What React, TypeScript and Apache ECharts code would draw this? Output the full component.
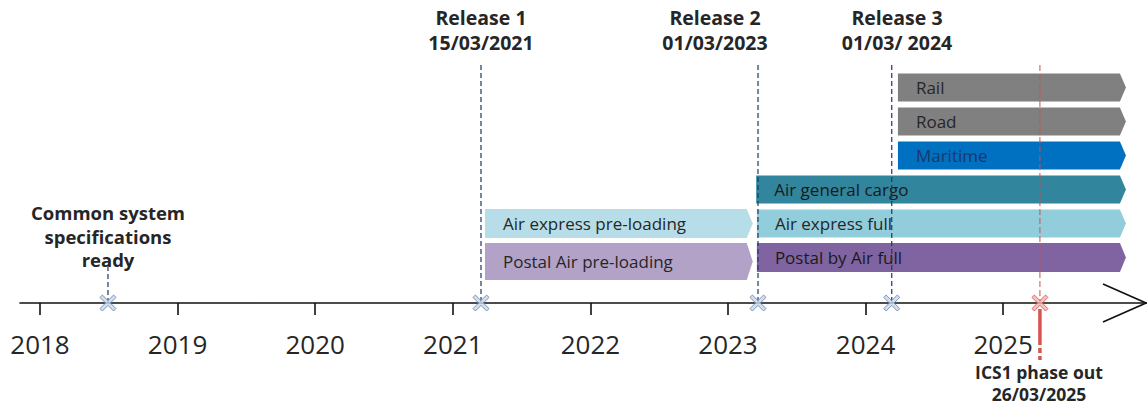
import React, { useEffect, useRef } from "react";
import * as echarts from "echarts";

// ---- data ----
const years = [2018, 2019, 2020, 2021, 2022, 2023, 2024, 2025];

const barNames = [
  "Rail",
  "Road",
  "Maritime",
  "Air general cargo",
  "Air express full",
  "Postal by Air full",
  "Air express pre-loading",
  "Postal Air pre-loading",
];
const barStart = [2024.235, 2024.235, 2024.235, 2023.205, 2023.21, 2023.21, 2021.234, 2021.234];
const barEnd = [2025.892, 2025.892, 2025.892, 2025.892, 2025.892, 2025.892, 2023.18, 2023.18];
const barLane = [5, 4, 3, 2, 1, 0, 1, -0.12];

const milestoneNames = ["Common system", "Release 1", "Release 2", "Release 3", "ICS1"];
const milestoneDates = [2018.494, 2021.205, 2023.218, 2024.19, 2025.267];
const milestoneLabels = [
  "Common system\nspecifications\nready",
  "Release 1\n15/03/2021",
  "Release 2\n01/03/2023",
  "Release 3\n01/03/ 2024",
  "ICS1 phase out\n26/03/2025",
];

// ---- styles ----
const X_MIN = 2017.8547;
const X_MAX = 2026.0451;
const Y_MIN = -1.338;
const Y_MAX = 7.574;
const FONT = "'Open Sans', 'Liberation Sans', sans-serif";

const barStyle: Record<string, { color: string; text: string; h: number }> = {
  Rail: { color: "#808080", text: "#262626", h: 28 },
  Road: { color: "#808080", text: "#262626", h: 28 },
  Maritime: { color: "#0070C0", text: "#1B3A6B", h: 28 },
  "Air general cargo": { color: "#31859C", text: "#1a1a1a", h: 28 },
  "Air express full": { color: "#92CDDC", text: "#262626", h: 28 },
  "Postal by Air full": { color: "#8064A2", text: "#1a1a1a", h: 29 },
  "Air express pre-loading": { color: "#B7DEE8", text: "#262626", h: 29 },
  "Postal Air pre-loading": { color: "#B3A2C7", text: "#262626", h: 37 },
};

const milestoneStyle: Record<
  string,
  { topV: number; color: string; width: number; dash: number[]; marker: string; markerBorder: string; lx: number; ly: number; lh: number; fs: number }
> = {
  "Common system": { topV: -0.25, color: "#1F3864", width: 1.2, dash: [5, 3], marker: "#C9D8EC", markerBorder: "#5F7FA8", lx: 108, ly: 236, lh: 23.5, fs: 18.5 },
  "Release 1": { topV: 5.66, color: "#1F3864", width: 1.2, dash: [5, 3], marker: "#C9D8EC", markerBorder: "#5F7FA8", lx: 481, ly: 30, lh: 25, fs: 19.5 },
  "Release 2": { topV: 5.66, color: "#1F3864", width: 1.2, dash: [5, 3], marker: "#C9D8EC", markerBorder: "#5F7FA8", lx: 715, ly: 30, lh: 25, fs: 19.5 },
  "Release 3": { topV: 5.66, color: "#1F3864", width: 1.2, dash: [5, 3], marker: "#C9D8EC", markerBorder: "#5F7FA8", lx: 897, ly: 30, lh: 25, fs: 19.5 },
  ICS1: { topV: 5.66, color: "#C9504D", width: 1, dash: [6, 3], marker: "#F2B3AE", markerBorder: "#D0504D", lx: 1039, ly: 383, lh: 22, fs: 17.5 },
};

const X_SYMBOL =
  "path://M0,3 L3,0 L10,7 L17,0 L20,3 L13,10 L20,17 L17,20 L10,13 L3,20 L0,17 L7,10 Z";

export default function App() {
  const ref = useRef<HTMLDivElement>(null);

  useEffect(() => {
    if (!ref.current) return;
    const chart = echarts.init(ref.current, undefined, { renderer: "svg" });

    const option: any = {
      animation: false,
      backgroundColor: "#ffffff",
      grid: { left: 20, right: 0, top: 0, height: 303 },
      xAxis: {
        type: "value",
        min: X_MIN,
        max: X_MAX,
        splitLine: { show: false },
        axisLine: { show: true, onZero: false, lineStyle: { color: "#111", width: 1.6 } },
        axisTick: {
          show: true,
          length: 12,
          customValues: years,
          lineStyle: { color: "#111", width: 1.6 },
        },
        axisLabel: {
          show: true,
          customValues: years,
          formatter: (v: number) => String(Math.round(v)),
          fontSize: 26,
          fontFamily: FONT,
          color: "#262626",
          margin: 29,
          lineHeight: 24,
        },
      },
      yAxis: { type: "value", min: Y_MIN, max: Y_MAX, show: false },
      graphic: [
        {
          type: "polyline",
          shape: { points: [[1103, 284], [1146, 303], [1103, 322]] },
          style: { stroke: "#111", lineWidth: 1.6, fill: "none" },
          z: 10,
        },
        ...milestoneNames.map((n, i) => {
          const s = milestoneStyle[n];
          return {
            type: "text",
            x: s.lx,
            y: s.ly,
            z: 10,
            style: {
              text: milestoneLabels[i],
              align: "center",
              verticalAlign: "middle",
              fontSize: s.fs,
              fontWeight: "bold",
              fontFamily: FONT,
              lineHeight: s.lh,
              fill: "#262626",
            },
          };
        }),
      ],
      series: [
        {
          type: "custom",
          name: "bars",
          z: 2,
          clip: false,
          data: barNames.map((n, i) => [barStart[i], barEnd[i], barLane[i]]),
          encode: { x: [0, 1], y: 2 },
          renderItem: (params: any, api: any) => {
            const name = barNames[params.dataIndex];
            const st = barStyle[name];
            const p0 = api.coord([api.value(0), api.value(2)]);
            const p1 = api.coord([api.value(1), api.value(2)]);
            const y = p0[1];
            const h = st.h;
            const tip = 6;
            return {
              type: "group",
              children: [
                {
                  type: "polygon",
                  shape: {
                    points: [
                      [p0[0], y - h / 2],
                      [p1[0] - tip, y - h / 2],
                      [p1[0], y],
                      [p1[0] - tip, y + h / 2],
                      [p0[0], y + h / 2],
                    ],
                  },
                  style: { fill: st.color },
                },
                {
                  type: "text",
                  x: p0[0] + 18,
                  y: y,
                  style: {
                    text: name,
                    fill: st.text,
                    fontSize: 17,
                    fontFamily: FONT,
                    align: "left",
                    verticalAlign: "middle",
                  },
                },
              ],
            };
          },
        },
        {
          type: "custom",
          name: "milestones",
          z: 3,
          clip: false,
          data: milestoneDates.map((d) => [d, Y_MIN]),
          encode: { x: 0, y: 1 },
          renderItem: (params: any, api: any) => {
            const name = milestoneNames[params.dataIndex];
            const s = milestoneStyle[name];
            const d = api.value(0);
            const top = api.coord([d, s.topV]);
            const bot = api.coord([d, Y_MIN]);
            const children: any[] = [
              {
                type: "line",
                shape: { x1: top[0], y1: top[1], x2: bot[0], y2: bot[1] },
                style: { stroke: s.color, lineWidth: s.width, lineDash: s.dash },
              },
            ];
            if (name === "ICS1") {
              children.push(
                {
                  type: "line",
                  shape: { x1: bot[0], y1: bot[1] + 6, x2: bot[0], y2: bot[1] + 42 },
                  style: { stroke: "#D9534F", lineWidth: 3.5 },
                },
                {
                  type: "line",
                  shape: { x1: bot[0], y1: bot[1] + 45, x2: bot[0], y2: bot[1] + 57 },
                  style: { stroke: "#D9534F", lineWidth: 3.5, lineDash: [5, 3] },
                }
              );
            }
            return { type: "group", children };
          },
        },
        {
          type: "scatter",
          name: "markers",
          z: 5,
          clip: false,
          symbol: X_SYMBOL,
          symbolSize: 16,
          data: milestoneDates.map((d, i) => {
            const s = milestoneStyle[milestoneNames[i]];
            return {
              value: [d, Y_MIN],
              itemStyle: { color: s.marker, borderColor: s.markerBorder, borderWidth: 1 },
            };
          }),
        },
      ],
    };

    chart.setOption(option);
    return () => chart.dispose();
  }, []);

  return (
    <div
      ref={ref}
      style={{ position: "absolute", left: 0, top: 0, width: 1147, height: 406 }}
    />
  );
}
